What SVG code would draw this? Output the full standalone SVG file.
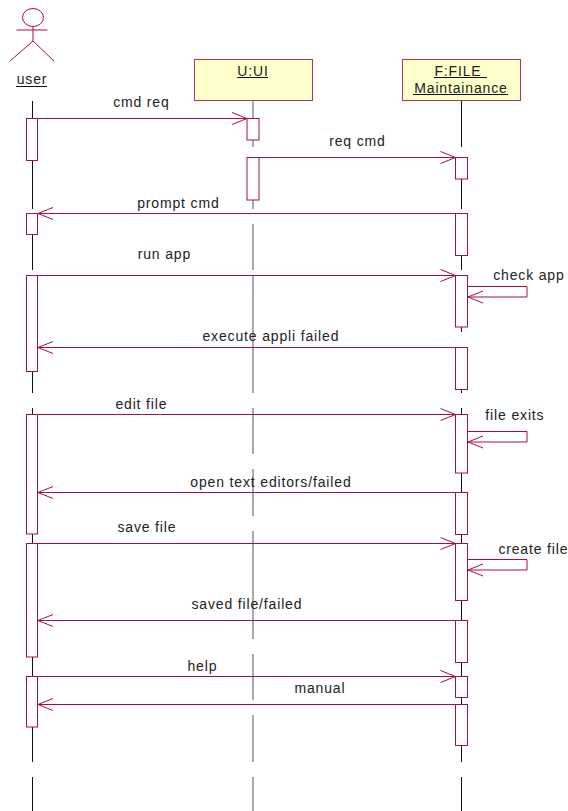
<svg xmlns="http://www.w3.org/2000/svg" width="568" height="811" viewBox="0 0 568 811">
<style>
text{font-family:"Liberation Sans",Arial,sans-serif;font-size:14px;letter-spacing:.85px;fill:#222;text-anchor:middle}
.s{fill:none;stroke:#a50f45;stroke-width:1}
.b{fill:#fff;stroke:#a50f45;stroke-width:1}
.h{fill:#ffffcc;stroke:#b8305c;stroke-width:1}
.l{fill:none;stroke:#111;stroke-width:1}
.g{fill:none;stroke:#555;stroke-width:1}
.u{stroke:#111;stroke-width:1}
</style>
<defs>
<path id="ar" class="s" d="M-15 -6L0 0L-15 6"/>
<path id="al" class="s" d="M15 -6L0 0L15 6"/>
</defs>
<g id="connectors">
<path class="l" d="M32.5 101V209M32.5 224V270M32.5 275V393M32.5 408V676M32.5 676V762M32.5 777V811"/>
<path class="g" d="M253 101V147M253 158V209M253 224V270M253 275V393M253 408V454M253 469V516M253 531V639M253 654V700M253 715V762M253 777V811"/>
<path class="l" d="M461.5 101V147M461.5 158V209M461.5 213V270M461.5 275V332M461.5 347V393M461.5 408V762M461.5 777V811"/>
</g>
<g id="activations">
<rect class="b" x="26.500" y="118.500" width="11" height="42"/>
<rect class="b" x="26.500" y="213.500" width="11" height="21"/>
<rect class="b" x="26.500" y="275.500" width="11" height="96"/>
<rect class="b" x="26.500" y="414.500" width="11" height="119.500"/>
<rect class="b" x="26.500" y="543.500" width="11" height="113.500"/>
<rect class="b" x="26.500" y="676.500" width="11" height="50.500"/>
<rect class="b" x="247" y="118.500" width="12" height="21.500"/>
<rect class="b" x="247" y="157.500" width="12" height="42.500"/>
<rect class="b" x="455.500" y="157.500" width="12" height="21.500"/>
<rect class="b" x="455.500" y="213.500" width="12" height="42"/>
<rect class="b" x="455.500" y="275.500" width="12" height="51.500"/>
<rect class="b" x="455.500" y="347.500" width="12" height="42"/>
<rect class="b" x="455.500" y="414.500" width="12" height="58.500"/>
<rect class="b" x="455.500" y="492.500" width="12" height="42"/>
<rect class="b" x="455.500" y="543.500" width="12" height="57"/>
<rect class="b" x="455.500" y="620.500" width="12" height="42"/>
<rect class="b" x="455.500" y="676.500" width="12" height="21"/>
<rect class="b" x="455.500" y="704.500" width="12" height="41"/>
</g>
<g id="messages">
<path class="s" d="M37.500 118.500H247"/><use href="#ar" x="247" y="118.500"/><text x="141.400" y="107">cmd req</text>
<path class="s" d="M259 157.500H455.500"/><use href="#ar" x="455.500" y="157.500"/><text x="357.400" y="146">req cmd</text>
<path class="s" d="M455.500 213.500H38"/><use href="#al" x="38" y="213.500"/><text x="178.400" y="208">prompt cmd</text>
<path class="s" d="M37.500 275.500H455.500"/><use href="#ar" x="455.500" y="275.500"/><text x="164.400" y="259">run app</text>
<path class="s" d="M467.500 286.500H527V297H468"/><use href="#al" x="468" y="297"/><text x="528.900" y="280">check app</text>
<path class="s" d="M455.500 347.500H38"/><use href="#al" x="38" y="347.500"/><text x="270.900" y="341">execute appli failed</text>
<path class="s" d="M37.500 414.500H455.500"/><use href="#ar" x="455.500" y="414.500"/><text x="141.400" y="409">edit file</text>
<path class="s" d="M467.500 431.500H527V442H468"/><use href="#al" x="468" y="442"/><text x="514.900" y="420">file exits</text>
<path class="s" d="M455.500 492.500H38"/><use href="#al" x="38" y="492.500"/><text x="270.900" y="487">open text editors/failed</text>
<path class="s" d="M37.500 543.500H455.500"/><use href="#ar" x="455.500" y="543.500"/><text x="146.900" y="532">save file</text>
<path class="s" d="M467.500 559.500H527V570H468"/><use href="#al" x="468" y="570"/><text x="533.400" y="554">create file</text>
<path class="s" d="M455.500 620.500H38"/><use href="#al" x="38" y="620.500"/><text x="246.900" y="609">saved file/failed</text>
<path class="s" d="M37.500 676.500H455.500"/><use href="#ar" x="455.500" y="676.500"/><text x="202.400" y="671">help</text>
<path class="s" d="M455.500 704.500H38"/><use href="#al" x="38" y="704.500"/><text x="319.900" y="693">manual</text>
</g>
<g id="user">
<ellipse class="s" cx="33" cy="17.500" rx="10.500" ry="9"/>
<path class="s" d="M33 27V41M16.500 30H47.500M33 41L10 61M33 41L54 61"/>
<text x="32" y="84">user</text><path class="u" d="M16 86.500H47"/>
</g>
<g id="ui">
<rect class="h" x="194.500" y="59.500" width="118" height="41"/>
<text x="253" y="76">U:UI</text><path class="u" d="M237 77.500H268"/>
</g>
<g id="file">
<rect class="h" x="402.500" y="59.500" width="118" height="41"/>
<text x="458" y="76">F:FILE </text><path class="u" d="M434 77.500H487"/>
<text x="461" y="93">Maintainance</text><path class="u" d="M413 94.500H508"/>
</g>
</svg>
